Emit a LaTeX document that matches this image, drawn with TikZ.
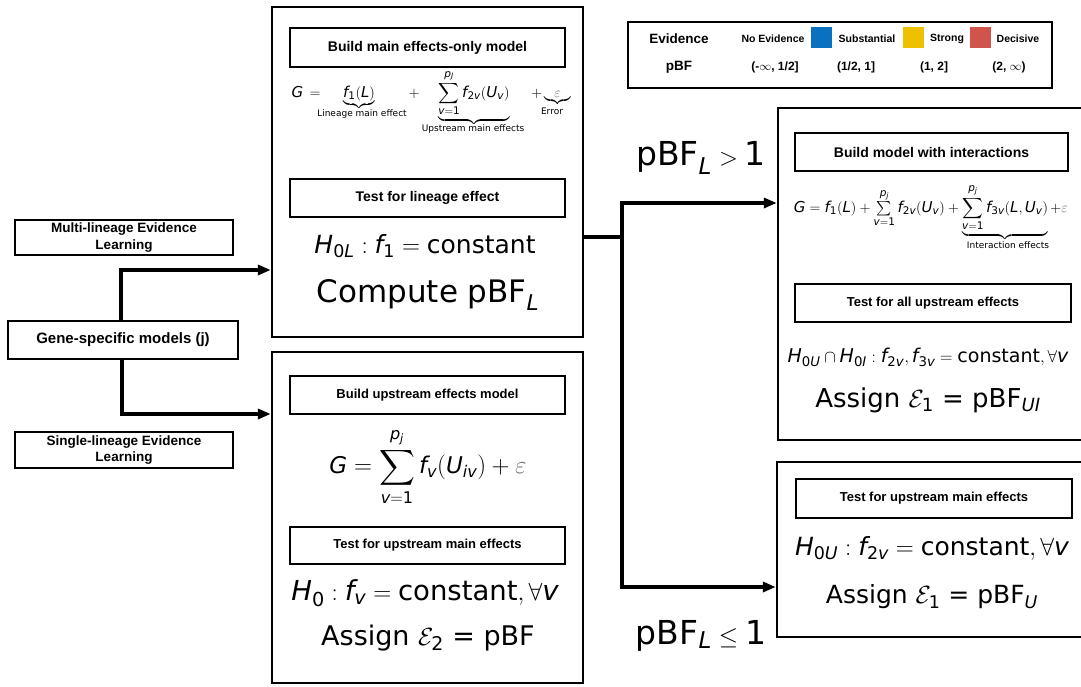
\documentclass[tikz,border=0pt]{standalone}
\usepackage{amsmath}
\usepackage{mathspec}
\setmainfont{DejaVu Sans}
\setmathsfont(Digits,Latin)[Scale=MatchLowercase]{DejaVu Sans}
\newfontfamily\labfont{Liberation Sans}
\usetikzlibrary{arrows.meta}
\newcommand{\setfs}[1]{\fontsize{#1}{#1}\selectfont}
\definecolor{evblue}{HTML}{0A70C0}
\definecolor{evyellow}{HTML}{EFC000}
\definecolor{evred}{HTML}{D0544C}
\definecolor{errgray}{HTML}{707070}
\tikzset{
  panel/.style={draw, line width=2.4pt, inner sep=0pt},
  stepbox/.style={draw, line width=2.1pt, inner sep=0pt, align=center,
    font=\labfont\bfseries\setfs{14}},
  sidebox/.style={draw, line width=2.1pt, inner sep=0pt, align=center,
    font=\labfont\bfseries\setfs{13.5}},
  legtxt/.style={font=\labfont\bfseries\setfs{10.5}},
  legrange/.style={font=\labfont\bfseries\setfs{12}},
  leghead/.style={font=\labfont\bfseries\setfs{13.5}},
  bracelabel/.style={font=\setfs{9}},
  swatch/.style={minimum size=21pt, inner sep=0pt},
  link/.style={line width=3.4pt},
  flow/.style={line width=3.4pt, -{Triangle[length=13pt,width=10pt]}},
}
\begin{document}
\begin{tikzpicture}[x=1pt,y=-1pt]
\useasboundingbox (0,0) rectangle (1081,686);
\clip (0,0) rectangle (1081,686);

% ---------- legend ----------
\node[draw, line width=2.2pt, minimum width=424pt, minimum height=66pt] (legend) at (840,55) {};
\node[leghead] (evh) at (679,39) {Evidence};
\node[leghead] (pbfh) at (679,67) {pBF};
\node[legtxt] (ev0) at (773,39) {No Evidence};
\node[swatch, fill=evblue] (sw1) at (821.5,37.5) {};
\node[legtxt] (ev1) at (867,39) {Substantial};
\node[swatch, fill=evyellow] (sw2) at (913.5,37.5) {};
\node[legtxt] (ev2) at (947,39) {Strong};
\node[swatch, fill=evred] (sw3) at (980.5,37.5) {};
\node[legtxt] (ev3) at (1018,39) {Decisive};
\node[legrange] (r0) at (775,67) {(-\(\infty\), 1/2]};
\node[legrange] (r1) at (856,67) {(1/2, 1]};
\node[legrange] (r2) at (934,67) {(1, 2]};
\node[legrange] (r3) at (1009,67) {(2, \(\infty\))};

% ---------- left column ----------
\node[sidebox, minimum width=218pt, minimum height=35pt] (multi) at (124,237.5)
  {Multi-lineage Evidence\\[3pt]Learning};
\node[sidebox, font=\labfont\bfseries\setfs{15}, minimum width=230pt, minimum height=38pt] (gene) at (123,340)
  {Gene-specific models (j)};
\node[sidebox, minimum width=218pt, minimum height=36pt] (single) at (124,450)
  {Single-lineage Evidence\\[3pt]Learning};

% ---------- multi-lineage panel ----------
\node[panel, minimum width=311pt, minimum height=330pt] (tl) at (427.5,172) {};
\node[stepbox, minimum width=275pt, minimum height=39pt] (bm1) at (427.5,47.5) {Build main effects-only model};
\node[anchor=base west, font=\setfs{15}] (eqG) at (288,97) {$G\,=$};
\node[anchor=base, font=\setfs{15}] (eqA) at (359,97) {$\underbrace{f_1(L)}$};
\node[bracelabel] (labA) at (362,114) {Lineage main effect};
\node[anchor=base, font=\setfs{15}] (eqP) at (414,97) {$+$};
\node[anchor=base, font=\setfs{15}] (eqB) at (474,97)
  {$\displaystyle\underbrace{\sum_{v=1}^{p_J} f_{2v}(U_v)}$};
\node[bracelabel] (labB) at (473,129) {Upstream main effects};
\node[anchor=base, font=\setfs{15}] (eqC) at (551,97)
  {$+\underbrace{\textcolor{errgray}{\varepsilon}}$};
\node[bracelabel] (labC) at (552,111) {Error};
\node[stepbox, minimum width=275pt, minimum height=38pt] (tl1) at (427.5,198) {Test for lineage effect};
\node[font=\setfs{25}] (h0l) at (425,246) {$H_{0L}: f_1 = \text{constant}$};
\node[font=\setfs{31}] (cmp) at (428,295) {Compute pBF$_L$};

% ---------- single-lineage panel ----------
\node[panel, minimum width=311pt, minimum height=331pt] (bl) at (427.5,517.5) {};
\node[stepbox, font=\labfont\bfseries\setfs{13}, minimum width=275pt, minimum height=38pt] (bu1) at (427.5,395) {Build upstream effects model};
\node[font=\setfs{23}] (eqS) at (428,467)
  {$\displaystyle G = \sum_{v=1}^{p_j} f_v(U_{iv}) + \textcolor{errgray}{\varepsilon}$};
\node[stepbox, font=\labfont\bfseries\setfs{13}, minimum width=275pt, minimum height=37pt] (tu1) at (427.5,545.5) {Test for upstream main effects};
\node[font=\setfs{27.5}] (h0) at (425,593) {$H_0 : f_v = \text{constant}, \forall v$};
\node[font=\setfs{27}] (asg2) at (428,638) {Assign $\mathcal{E}_2$ = pBF};

% ---------- interaction panel ----------
\node[panel, minimum width=310pt, minimum height=332pt] (rt) at (933,274) {};
\node[stepbox, minimum width=273pt, minimum height=38pt] (bmi) at (931.5,152) {Build model with interactions};
\node[anchor=base, font=\setfs{15}] (eqI) at (931,212)
  {$G = f_1(L) + \sum\limits_{v=1}^{p_j} f_{2v}(U_v) + \underbrace{\sum\limits_{v=1}^{p_j} f_{3v}(L,U_v)} + \textcolor{errgray}{\varepsilon}$};
\node[bracelabel] (labI) at (1008,245) {Interaction effects};
\node[stepbox, font=\labfont\bfseries\setfs{13}, minimum width=276pt, minimum height=38pt] (tau) at (933,303) {Test for all upstream effects};
\node[font=\setfs{19}] (h0ui) at (928,357) {$H_{0U} \cap H_{0I} : f_{2v}, f_{3v} = \text{constant}, \forall v$};
\node[font=\setfs{26}] (asgui) at (928,400) {Assign $\mathcal{E}_1$ = pBF$_{UI}$};

% ---------- main-effects panel ----------
\node[panel, minimum width=311pt, minimum height=175pt] (rb) at (932.5,549.5) {};
\node[stepbox, font=\labfont\bfseries\setfs{13}, minimum width=276pt, minimum height=39pt] (tum) at (934,498.5) {Test for upstream main effects};
\node[font=\setfs{25}] (h0u) at (932,548) {$H_{0U} : f_{2v} = \text{constant}, \forall v$};
\node[font=\setfs{25}] (asgu) at (932,597) {Assign $\mathcal{E}_1$ = pBF$_U$};

% ---------- decision labels ----------
\node[font=\setfs{33}] (gt) at (701,158) {pBF$_L > 1$};
\node[font=\setfs{33}] (le) at (701,636) {pBF$_L \leq 1$};

% ---------- connectors ----------
\draw[flow] (gene.north -| 121,0) |- ([yshift=-98pt]tl.west);
\draw[flow] (gene.south -| 122,0) |- ([yshift=103.5pt]bl.west);
\coordinate (split) at (622,237);
\draw[link] ([yshift=-65pt]tl.east) -- (split);
\draw[flow] (split) |- ([yshift=71pt]rt.west);
\draw[flow] (split) |- ([yshift=-37.5pt]rb.west);
\end{tikzpicture}
\end{document}
